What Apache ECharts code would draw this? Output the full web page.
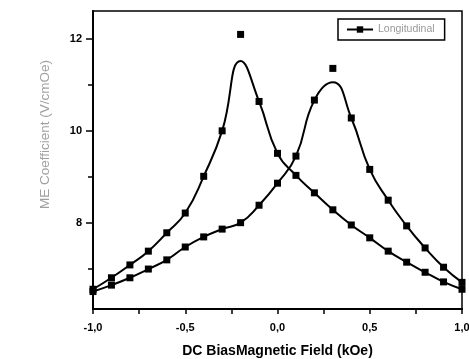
<!DOCTYPE html>
<html>
<head>
<meta charset="utf-8">
<script src="https://cdn.jsdelivr.net/npm/echarts@6/dist/echarts.min.js"></script>
<style>
  html, body { margin: 0; padding: 0; background: #fff; }
  #chart { width: 469px; height: 359px; }
</style>
</head>
<body>
<div id="chart"></div>
<script>
// DC bias field (kOe)
const fieldKOe = [-1.0, -0.9, -0.8, -0.7, -0.6, -0.5, -0.4, -0.3, -0.2, -0.1, 0.0,
                  0.1, 0.2, 0.3, 0.4, 0.5, 0.6, 0.7, 0.8, 0.9, 1.0]
// curve peaking near -0.2 kOe
const curveLeft = [6.55, 6.8, 7.08, 7.38, 7.78, 8.21, 9.01, 10.0, 11.52, 10.64, 9.51,
                   9.03, 8.65, 8.28, 7.95, 7.67, 7.38, 7.14, 6.92, 6.71, 6.55]
// curve peaking near 0.3 kOe
const curveRight = [6.5, 6.64, 6.8, 6.99, 7.19, 7.47, 7.69, 7.86, 8.0, 8.38, 8.86,
                    9.45, 10.67, 11.06, 10.28, 9.16, 8.49, 7.93, 7.45, 7.03, 6.7]
// measured points above the fitted peaks
const peakX = [-0.2, 0.3]
const peakY = [12.1, 11.36]

const yMajor = [8, 10, 12]
const yMinor = [7, 9, 11]

const FONT = '"Liberation Sans", Arial, sans-serif'

function lineData(ys, peakIdx) {
  return fieldKOe.map((x, i) => i === peakIdx
    ? { value: [x, ys[i]], symbol: 'none' }
    : [x, ys[i]])
}

const chart = echarts.init(document.getElementById('chart'), null, { renderer: 'canvas' })

const tickLabel = { color: '#000', fontSize: 11, fontWeight: 'bold', fontFamily: FONT }

chart.setOption({
  animation: false,
  backgroundColor: '#fff',
  grid: {
    left: 93, right: 7, top: 11, bottom: 50,
    outerBoundsMode: 'none', containLabel: false,
    show: true, borderColor: '#000', borderWidth: 1.5,
  },
  legend: {
    data: ['Longitudinal'],
    left: 338, top: 19,
    padding: [5, 10, 5, 8],
    borderColor: '#000', borderWidth: 1.5,
    itemWidth: 26, itemHeight: 8, itemGap: 4,
    textStyle: { color: '#999', fontSize: 10.5, fontFamily: FONT },
  },
  xAxis: {
    type: 'value',
    min: -1, max: 1, interval: 0.5,
    name: 'DC BiasMagnetic Field (kOe)',
    nameLocation: 'middle', nameGap: 35,
    nameTextStyle: { color: '#000', fontSize: 14, fontWeight: 'bold', fontFamily: FONT },
    axisLine: { onZero: false, lineStyle: { color: '#000', width: 2 } },
    axisTick: { length: 5, lineStyle: { color: '#000', width: 1.5 } },
    minorTick: { show: true, splitNumber: 2, length: 5, lineStyle: { color: '#000', width: 1.5 } },
    axisLabel: { ...tickLabel, margin: 13, formatter: v => v.toFixed(1).replace('.', ',') },
    splitLine: { show: false },
  },
  yAxis: [
    {
      type: 'value',
      min: 6.12, max: 12.61,
      axisLine: { show: true, onZero: false, lineStyle: { color: '#000', width: 2 } },
      axisTick: { show: true, length: 7, customValues: yMajor, lineStyle: { color: '#000', width: 1.5 } },
      axisLabel: { ...tickLabel, margin: 11, customValues: yMajor },
      splitLine: { show: false },
    },
    {
      type: 'value',
      position: 'left',
      min: 6.12, max: 12.61,
      axisLine: { show: false, onZero: false },
      axisTick: { show: true, length: 5, customValues: yMinor, lineStyle: { color: '#000', width: 1.5 } },
      axisLabel: { show: false },
      splitLine: { show: false },
    },
  ],
  graphic: [{
    type: 'text',
    left: 38, top: 60,
    rotation: Math.PI / 2,
    style: { text: 'ME Coefficient (V/cmOe)', fill: '#a0a0a0', fontSize: 13.5, fontFamily: FONT },
  }],
  series: [
    {
      name: 'Longitudinal', type: 'line', smooth: true,
      data: lineData(curveLeft, 8),
      symbol: 'rect', symbolSize: 7,
      lineStyle: { color: '#000', width: 2 }, itemStyle: { color: '#000' },
    },
    {
      name: 'Longitudinal', type: 'line', smooth: true,
      data: lineData(curveRight, 13),
      symbol: 'rect', symbolSize: 7,
      lineStyle: { color: '#000', width: 2 }, itemStyle: { color: '#000' },
    },
    {
      name: 'peaks', type: 'scatter',
      data: peakX.map((x, i) => [x, peakY[i]]),
      symbol: 'rect', symbolSize: 7,
      itemStyle: { color: '#000', opacity: 1 },
    },
  ],
})
</script>
</body>
</html>
